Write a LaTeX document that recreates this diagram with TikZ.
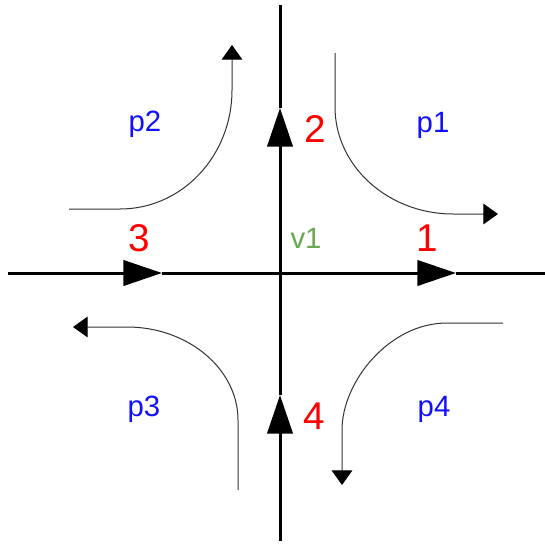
\documentclass[tikz,border=0pt]{standalone}
\usepackage{fontspec}
\setmainfont{Liberation Sans}
\usetikzlibrary{arrows.meta}
\definecolor{rojo}{HTML}{FF0000}
\definecolor{azul}{HTML}{1010FF}
\definecolor{verde}{HTML}{6AA84F}
\tikzset{
  eje/.style={line width=2.25pt, color=black, -{Triangle[length=29pt, width=19pt]}},
  ejefin/.style={line width=2.25pt, color=black},
  giro/.style={line width=0.75pt, color=black!80, -{Triangle[length=11pt, width=15.5pt, color=black]}},
  num/.style={inner sep=0pt, text=rojo, font=\fontsize{29}{30}\selectfont},
  zona/.style={inner sep=0pt, text=azul, font=\fontsize{22}{23}\selectfont},
  cruce/.style={inner sep=0pt, text=verde, font=\fontsize{22}{23}\selectfont}
}
\begin{document}
\begin{tikzpicture}[x=0.75pt, y=-0.75pt]
  \useasboundingbox (0,0) rectangle (545,546);
  % Ejes del cruce
  \coordinate (w) at (8,273);
  \coordinate (m3) at (162,273);
  \coordinate (m1) at (456,273);
  \coordinate (e) at (545,273);
  \coordinate (s) at (280,541);
  \coordinate (m4) at (280,395);
  \coordinate (m2) at (280,108);
  \coordinate (n) at (280,5);
  \draw [eje] (w) -- (m3);
  \draw [eje] (m3) -- (m1);
  \draw [ejefin] (m1) -- (e);
  \draw [eje] (s) -- (m4);
  \draw [eje] (m4) -- (m2);
  \draw [ejefin] (m2) -- (n);
  % Etiquetas
  \node (l1) [num] at (427,238) {1};
  \node (l2) [num] at (315,129) {2};
  \node (l3) [num] at (139,238) {3};
  \node (l4) [num] at (314,416) {4};
  \node (v1) [cruce] at (306,238) {v1};
  \node (p1) [zona] at (433,125) {p1};
  \node (p2) [zona] at (145,124) {p2};
  \node (p3) [zona] at (144,409) {p3};
  \node (p4) [zona] at (434,409) {p4};
  % Giros
  \coordinate (g1a) at (335,53);  \coordinate (g1b) at (335,107);
  \coordinate (g1c) at (453,214); \coordinate (g1d) at (498,214);
  \draw [giro] (g1a) -- (g1b) .. controls (335,166) and (388,214) .. (g1c) -- (g1d);
  \coordinate (g2a) at (69,209);  \coordinate (g2b) at (120,209);
  \coordinate (g2c) at (232,90);  \coordinate (g2d) at (232,45);
  \draw [giro] (g2a) -- (g2b) .. controls (182,209) and (232,156) .. (g2c) -- (g2d);
  \coordinate (g3a) at (238,490); \coordinate (g3b) at (238,420);
  \coordinate (g3c) at (127,327); \coordinate (g3d) at (73,327);
  \draw [giro] (g3a) -- (g3b) .. controls (238,369) and (188,327) .. (g3c) -- (g3d);
  \coordinate (g4a) at (503,323); \coordinate (g4b) at (447,323);
  \coordinate (g4c) at (342,430); \coordinate (g4d) at (342,485);
  \draw [giro] (g4a) -- (g4b) .. controls (389,323) and (342,382) .. (g4c) -- (g4d);
\end{tikzpicture}
\end{document}
